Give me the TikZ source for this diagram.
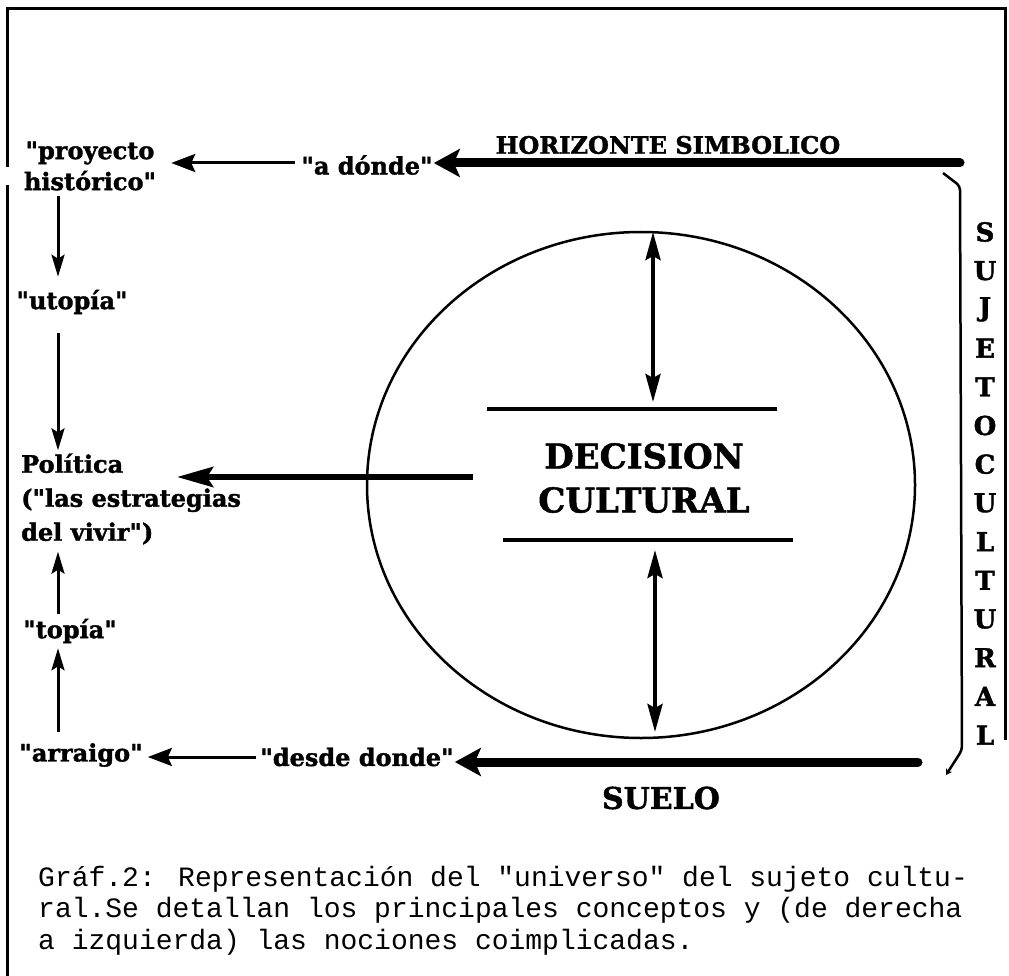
\documentclass[tikz,border=0pt]{standalone}
\usepackage{fontspec}
\newfontfamily\lblfont{DejaVu Serif}[BoldFeatures={FakeBold=1.5}]
\newfontfamily\capfont{Liberation Mono}
\usetikzlibrary{arrows.meta}

\begin{document}
\begin{tikzpicture}[x=1pt,y=-1pt,
  lbl/.style={inner sep=1pt,font=\lblfont\fontsize{24}{31}\selectfont\bfseries},
  heavy/.style={line width=9pt,line cap=round,-{Stealth[length=26pt,width=28pt,inset=6pt]}},
  polarrow/.style={line width=6pt,-{Stealth[length=36pt,width=20pt,inset=6pt]}},
  thinarr/.style={line width=3pt,-{Stealth[length=24pt,width=18pt,inset=4pt]}},
  uparr/.style={line width=3pt,-{Stealth[length=22pt,width=13pt,inset=4pt]}},
  dbl/.style={line width=4pt,{Stealth[length=28pt,width=15pt,inset=4pt]}-{Stealth[length=28pt,width=15pt,inset=4pt]}}]
\useasboundingbox (0,0) rectangle (1009,976);

% frame
\draw [line width=3pt] (7,976) -- (7,185);
\draw [line width=3pt] (7,167) -- (7,9) -- (1005,9) -- (1005,740);

% labels on the left
\node [lbl, align=center] (proy) at (90,166) {"proyecto\\histórico"};
\node [lbl] (utopia) at (72,302) {"utopía"};
\node [lbl, align=left, anchor=west, font=\lblfont\fontsize{24}{34}\selectfont\bfseries] (pol) at (20,499) {Política\\("las estrategias\\del vivir")};
\node [lbl] (topia) at (70,631) {"topía"};
\node [lbl] (arraigo) at (81,755) {"arraigo"};
\coordinate (colx) at (58,0);

% top and bottom labels
\node [lbl] (adonde) at (367,165) {"a dónde"};
\node [lbl] (desde) at (357,757) {"desde donde"};
\node [lbl] (horiz) at (668,145) {HORIZONTE SIMBOLICO};
\node [lbl, font=\lblfont\fontsize{30}{36}\selectfont\bfseries] (suelo) at (661,798) {SUELO};

% circle
\draw [line width=2.5pt] (641,485) ellipse (274 and 253);
\draw [line width=4pt] (487,409) -- (777,409);
\draw [line width=4pt] (503,540) -- (793,540);
\node [lbl, align=center, font=\lblfont\fontsize{34}{44}\selectfont\bfseries] (dec) at (644,478) {DECISION\\CULTURAL};

% arrows in the circle
\coordinate (ua) at (653,232);
\coordinate (ub) at (653,402);
\coordinate (la) at (655,550);
\coordinate (lb) at (655,732);
\draw [dbl] (ua) -- (ub);
\draw [dbl] (la) -- (lb);

% main arrows
\coordinate (hs) at (960,163);
\coordinate (ss) at (918,762);
\coordinate (ps) at (473,477);
\draw [heavy] (hs) -- (adonde.east |- hs);
\draw [heavy] (ss) -- (desde.east |- ss);
\draw [polarrow] (ps) -- ([xshift=157pt]pol.west |- ps);
\draw [thinarr, shorten <=5pt, shorten >=14pt] (adonde.west |- hs) -- (proy.east |- hs);
\draw [thinarr, shorten <=3pt, shorten >=4pt] (desde.west) -- (arraigo.east |- desde.west);

% vertical arrows
\draw [uparr, shorten <=4pt, shorten >=12pt] (proy.south -| colx) -- (utopia.north -| colx);
\draw [uparr, shorten <=18pt, shorten >=2pt] (utopia.south -| colx) -- (pol.north -| colx);
\draw [uparr, shorten <=4pt, shorten >=6pt] (topia.north -| colx) -- (pol.south -| colx);
\draw [uparr, shorten <=10pt, shorten >=4pt] (arraigo.north -| colx) -- (topia.south -| colx);

% sujeto cultural
\draw [line width=2.5pt, rounded corners=4pt, -{Stealth[length=6pt,width=7pt]}] (943,173) -- (960,186) -- (962,750) -- (946,775);
\foreach \ch [count=\i] in {S,U,J,E,T,O,C,U,L,T,U,R,A,L}
  \node [lbl, font=\lblfont\fontsize{26}{30}\selectfont\bfseries] (sc\i) at (985,{232+(\i-1)*38.7}) {\ch};

% caption
\node [anchor=north west, align=left, inner sep=0pt, font=\capfont\fontsize{28}{31.5}\selectfont] (cap) at (38,866)
  {Gráf.2: Representación del "universo" del sujeto cultu-\\ral.Se detallan los principales conceptos y (de derecha\\a izquierda) las nociones coimplicadas.};

\end{tikzpicture}
\end{document}
